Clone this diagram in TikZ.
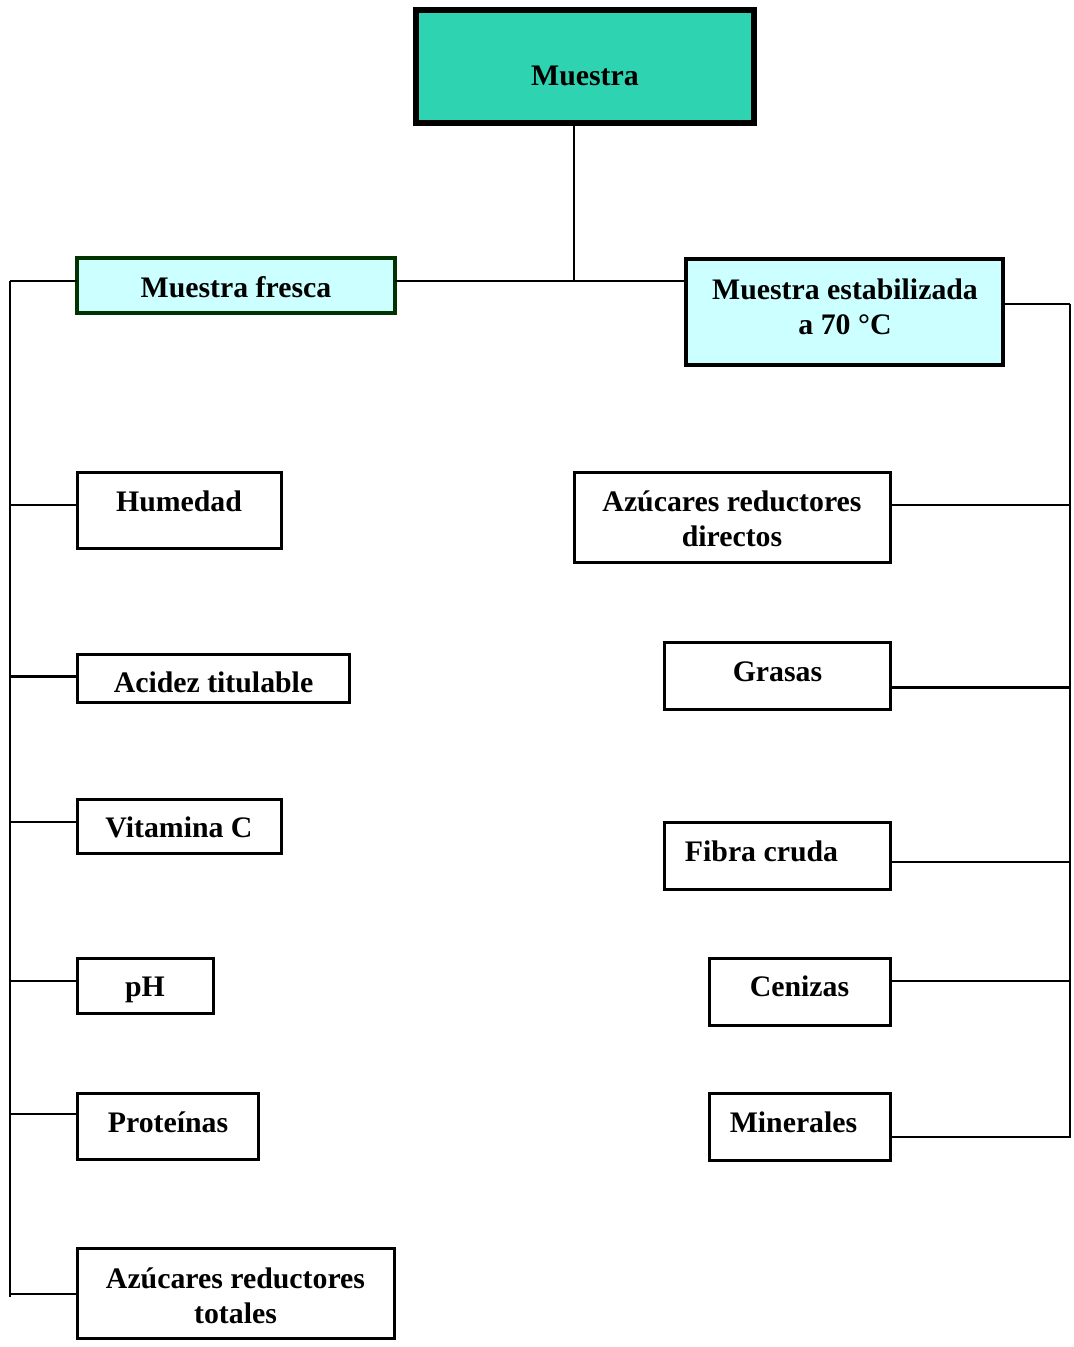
\documentclass[tikz,border=0pt]{standalone}
\usepackage{fontspec}
\setmainfont{Liberation Serif}
\definecolor{teal1}{RGB}{46,211,177}
\definecolor{lcyan}{RGB}{204,255,255}
\definecolor{dgreen}{RGB}{0,51,0}
\begin{document}
\begin{tikzpicture}[x=0.5pt,y=-0.5pt,
  box/.style={draw=black, line width=1.5pt, fill=white, inner sep=0pt, outer sep=0pt, anchor=north west},
  lbl/.style={anchor=base, inner sep=0pt, align=center, font=\fontsize{14.9}{17.5}\selectfont\bfseries},
  conn/.style={line width=0.75pt},
  thickconn/.style={line width=1.5pt},
  bus/.style={line width=1.1pt}]
\useasboundingbox (0,0) rectangle (1073,1347);

% boxes
\node[box, line width=2.75pt, fill=teal1, minimum width=169pt, minimum height=56.5pt] (muestra) at (416,10) {};
\node[box, draw=dgreen, line width=2pt, fill=lcyan, minimum width=159pt, minimum height=27.5pt] (fresca) at (77,258) {};
\node[box, line width=2.25pt, fill=lcyan, minimum width=158.5pt, minimum height=53pt] (estab) at (686,259) {};

\node[box, minimum width=102pt, minimum height=38pt] (hum) at (77,472) {};
\node[box, minimum width=136pt, minimum height=24pt] (acid) at (77,654) {};
\node[box, minimum width=102pt, minimum height=27pt] (vit) at (77,799) {};
\node[box, minimum width=68pt, minimum height=27.5pt] (ph) at (77,958) {};
\node[box, minimum width=90.5pt, minimum height=33pt] (prot) at (77,1093) {};
\node[box, minimum width=158.5pt, minimum height=45pt] (tot) at (77,1248) {};

\node[box, minimum width=158pt, minimum height=45pt] (dir) at (574,472) {};
\node[box, minimum width=113pt, minimum height=33.5pt] (gras) at (664,642) {};
\node[box, minimum width=113pt, minimum height=33.5pt] (fib) at (664,822) {};
\node[box, minimum width=90.5pt, minimum height=33.5pt] (cen) at (709,958) {};
\node[box, minimum width=90.5pt, minimum height=33.5pt] (min) at (709,1093) {};

% texts (anchor=base of a two-line node is the last line's baseline)
\node[lbl] (muestraT) at (585,86) {Muestra};
\node[lbl] (frescaT) at (236,298) {Muestra fresca};
\node[lbl] (estabT) at (845,335) {Muestra estabilizada\\a 70 °C};
\node[lbl] (humT) at (179,511) {Humedad};
\node[lbl] (acidT) at (213.5,692) {Acidez titulable};
\node[lbl] (vitT) at (179,837) {Vitamina C};
\node[lbl] (phT) at (145,996) {pH};
\node[lbl] (protT) at (168,1132) {Proteínas};
\node[lbl] (totT) at (235.5,1323) {Azúcares reductores\\totales};
\node[lbl] (dirT) at (732,546) {Azúcares reductores\\directos};
\node[lbl] (grasT) at (777.5,681) {Grasas};
\node[lbl] (fibT) at (761.5,861) {Fibra cruda};
\node[lbl] (cenT) at (799.5,996) {Cenizas};
\node[lbl] (minT) at (793.5,1132) {Minerales};

% junction coordinates
\coordinate (J) at (574,281);
\coordinate (Ltop) at (10,281);
\coordinate (Lbot) at (10,1297);
\coordinate (Rtop) at (1070,304);
\coordinate (Rbot) at (1070,1138);
\coordinate (L1) at (10,505);
\coordinate (L2) at (10,676);
\coordinate (L3) at (10,822);
\coordinate (L4) at (10,981);
\coordinate (L5) at (10,1114);
\coordinate (L6) at (10,1294);
\coordinate (R1) at (1070,505);
\coordinate (R2) at (1070,687);
\coordinate (R3) at (1070,862);
\coordinate (R4) at (1070,981);
\coordinate (R5) at (1070,1137);

% top connectors
\draw[conn] (J |- muestra.south) -- (J);
\draw[conn] (fresca.east |- J) -- (estab.west |- J);

% left bus
\draw[bus] (Lbot) -- (Ltop);
\draw[conn] (Ltop) -- (Ltop -| fresca.west);
\draw[conn] (L1) -- (L1 -| hum.west);
\draw[thickconn] (L2) -- (L2 -| acid.west);
\draw[conn] (L3) -- (L3 -| vit.west);
\draw[conn] (L4) -- (L4 -| ph.west);
\draw[conn] (L5) -- (L5 -| prot.west);
\draw[conn] (L6) -- (L6 -| tot.west);

% right bus
\draw[bus] (Rtop) -- (Rbot);
\draw[conn] (Rtop) -- (Rtop -| estab.east);
\draw[conn] (R1) -- (R1 -| dir.east);
\draw[thickconn] (R2) -- (R2 -| gras.east);
\draw[conn] (R3) -- (R3 -| fib.east);
\draw[conn] (R4) -- (R4 -| cen.east);
\draw[conn] (R5) -- (R5 -| min.east);
\end{tikzpicture}
\end{document}
